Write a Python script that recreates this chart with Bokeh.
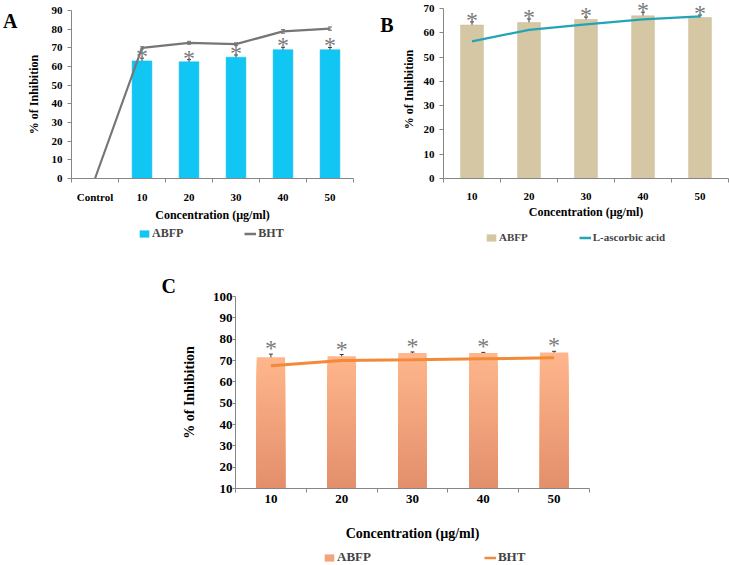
from bokeh.plotting import figure
from bokeh.models import (ColumnDataSource, Whisker, TeeHead, FixedTicker, Legend,
                          LegendItem, Range1d, Spacer, Title, LinearAxis)
from bokeh.layouts import column, row
from bokeh.core.properties import value
from bokeh.embed import file_html
from bokeh.resources import INLINE

# ---------------- data ----------------
# Panel A
a_categories = ["Control", "10", "20", "30", "40", "50"]
a_abfp = [float("nan"), 63.0, 62.5, 65.0, 69.0, 69.0]
a_abfp_err = [float("nan"), 1.5, 1.2, 1.2, 1.3, 1.2]
a_bht = [0.0, 70.0, 72.7, 72.0, 78.8, 80.3]
a_bht_err = [0.0, 0.6, 0.8, 0.7, 1.0, 0.9]
a_yticks = [0, 10, 20, 30, 40, 50, 60, 70, 80, 90]

# Panel B
b_categories = ["10", "20", "30", "40", "50"]
b_abfp = [63.2, 64.2, 65.5, 67.0, 66.3]
b_abfp_err = [1.3, 1.5, 1.0, 1.5, 1.0]
b_acid = [56.5, 61.2, 63.5, 65.5, 66.8]
b_acid_err = [0.3, 0.3, 0.4, 0.4, 0.5]
b_yticks = [0, 10, 20, 30, 40, 50, 60, 70]

# Panel C
c_categories = ["10", "20", "30", "40", "50"]
c_abfp = [71.5, 72.0, 73.5, 73.5, 73.8]
c_abfp_err = [1.5, 0.8, 0.5, 0.3, 0.5]
c_bht = [67.5, 70.0, 70.3, 70.8, 71.3]
c_bht_err = [3.5, 1.0, 3.0, 0.3, 1.5]
c_yticks = [10, 20, 30, 40, 50, 60, 70, 80, 90, 100]

SERIF = "Liberation Serif"
AXIS_GRAY = "#868686"
STAR_GRAY = "#7a7a7a"
A_BAR, B_BAR = "#12C6F4", "#D5C7A3"
A_LINE, B_LINE, C_LINE = "#767676", "#22A4B6", "#F28A3A"
C_TOP, C_BOT, C_MID = "#FFB68C", "#E38F6B", "#F4A47C"


def hexmix(c1, c2, t):
    a = [int(c1[i:i + 2], 16) for i in (1, 3, 5)]
    b = [int(c2[i:i + 2], 16) for i in (1, 3, 5)]
    return "#%02x%02x%02x" % tuple(round(a[k] + (b[k] - a[k]) * t) for k in range(3))


def make_fig(cats, yticks, W, H, mbl, mbr, mbt, mbb, fs, label_fs,
             x_std, x_lab_std, y_std, y_lab_std, y_tick_out=4, y_headroom=0.0):
    n = len(cats)
    p = figure(width=W, height=H, output_backend="svg", toolbar_location=None,
               x_range=Range1d(-0.5, n - 0.5),
               y_range=Range1d(yticks[0], yticks[-1] + y_headroom),
               min_border_left=mbl, min_border_right=mbr, min_border_top=mbt,
               min_border_bottom=mbb)
    p.outline_line_color = None
    p.xgrid.visible = False
    p.ygrid.visible = False
    xs = list(range(n))
    bounds = [i - 0.5 for i in range(n + 1)]
    p.xaxis.ticker = FixedTicker(ticks=xs, minor_ticks=bounds)
    p.xaxis.major_label_overrides = {i: c for i, c in enumerate(cats)}
    p.xaxis.major_tick_out = 0
    p.xaxis.major_tick_in = 0
    p.xaxis.minor_tick_out = 4
    p.xaxis.minor_tick_in = 0
    p.yaxis.ticker = FixedTicker(ticks=yticks)
    p.yaxis.bounds = (yticks[0], yticks[-1])
    p.yaxis.major_tick_out = y_tick_out
    p.yaxis.major_tick_in = 0
    for ax in (p.xaxis, p.yaxis):
        ax.axis_line_color = AXIS_GRAY
        ax.major_tick_line_color = AXIS_GRAY
        ax.minor_tick_line_color = AXIS_GRAY
        ax.major_label_text_font = SERIF
        ax.major_label_text_font_style = "bold"
        ax.major_label_text_font_size = f"{fs}px"
        ax.major_label_text_color = "black"
        ax.axis_label_text_font = SERIF
        ax.axis_label_text_font_style = "bold"
        ax.axis_label_text_font_size = f"{label_fs}px"
        ax.axis_label_text_color = "black"
    p.yaxis.minor_tick_line_color = None
    p.xaxis.major_label_standoff = x_std
    p.xaxis.axis_label_standoff = x_lab_std
    p.yaxis.major_label_standoff = y_std
    p.yaxis.axis_label_standoff = y_lab_std
    p.xaxis.axis_label = "Concentration (µg/ml)"
    p.yaxis.axis_label = "% of Inhibition"
    return p


def add_whiskers(p, xs, vals, errs, color="#404040", size=5):
    up = [v + e for v, e in zip(vals, errs)]
    lo = [v - e for v, e in zip(vals, errs)]
    src = ColumnDataSource(dict(x=xs, upper=up, lower=lo))
    w = Whisker(source=src, base="x", upper="upper", lower="lower",
                line_color=color, line_width=1,
                upper_head=TeeHead(size=size, line_color=color, line_width=1),
                lower_head=TeeHead(size=size, line_color=color, line_width=1))
    p.add_layout(w)


def add_stars(p, xs, vals, errs, fs, yoff):
    ys = [v + e for v, e in zip(vals, errs)]
    src = ColumnDataSource(dict(x=xs, y=ys, t=["*"] * len(xs)))
    p.text(x="x", y="y", text="t", source=src, text_font=value(SERIF),
           text_font_size=f"{fs}px", text_color=STAR_GRAY, text_align="center",
           text_baseline="middle", y_offset=yoff)


def add_side_letter(p, text, at, standoff):
    # panel letter set beside the top of the y axis, outside the value axis
    ax = LinearAxis(ticker=FixedTicker(ticks=[at]), major_label_overrides={at: text},
                    axis_line_color=None, major_tick_line_color=None,
                    minor_tick_line_color=None, major_tick_out=0, major_tick_in=0,
                    minor_tick_out=0, minor_tick_in=0, major_label_standoff=standoff,
                    major_label_text_font=SERIF, major_label_text_font_style="bold",
                    major_label_text_font_size="20px", major_label_text_color="black")
    p.add_layout(ax, "left")


def add_title_letter(p, text, offset, standoff):
    p.add_layout(Title(text=text, align="left", offset=offset, standoff=standoff,
                       text_font=SERIF, text_font_style="bold", text_font_size="20px",
                       text_color="black"), "above")


def legend_fig(W, H, mbl, bar_x, bar_vals, bar_color, line_x, line_vals, line_color,
               labels, fs, spacing, loc):
    # legend strip below a panel; it holds the same series as the panel, but its
    # ranges show none of them, so only the legend is visible
    f = figure(width=W, height=H, output_backend="svg", toolbar_location=None,
               x_axis_location=None, y_axis_location=None,
               min_border_left=mbl, min_border_right=0, min_border_top=0,
               min_border_bottom=0, x_range=Range1d(0, 1), y_range=Range1d(1000, 1001))
    f.outline_line_color = None
    f.xgrid.visible = False
    f.ygrid.visible = False
    rb = f.vbar(x=bar_x, top=bar_vals, bottom=0, width=0.4, fill_color=bar_color,
                line_color=None)
    rl = f.line(x=line_x, y=line_vals, line_color=line_color, line_width=2.5)
    lg = Legend(items=[LegendItem(label=labels[0], renderers=[rb]),
                       LegendItem(label=labels[1], renderers=[rl])],
                orientation="horizontal", location=loc,
                label_text_font=SERIF, label_text_font_style="bold",
                label_text_font_size=f"{fs}px", glyph_width=12, glyph_height=9,
                spacing=spacing, padding=0, margin=0, border_line_color=None,
                background_fill_alpha=0, label_standoff=2, label_height=12)
    f.add_layout(lg)
    return f


# ---------------- Panel A ----------------
pA = make_fig(a_categories, a_yticks, 365, 224, 68, 12, 10, 42, 11, 12,
              x_std=8, x_lab_std=2, y_std=5, y_lab_std=8)
ax_idx = list(range(len(a_categories)))
bar_idx = [i for i, v in enumerate(a_abfp) if v == v]
a_bar_vals = [a_abfp[i] for i in bar_idx]
a_bar_errs = [a_abfp_err[i] for i in bar_idx]
pA.vbar(x=bar_idx, top=a_bar_vals, bottom=0, width=0.42,
        fill_color=A_BAR, line_color="#0BB8E6", line_width=0.5)
add_whiskers(pA, bar_idx, a_bar_vals, a_bar_errs, color="#3a3a3a", size=4)
pA.line(ax_idx, a_bht, line_color=A_LINE, line_width=2.2)
add_whiskers(pA, ax_idx[1:], a_bht[1:], a_bht_err[1:], color=A_LINE, size=4)
add_stars(pA, bar_idx, a_bar_vals, a_bar_errs, 24, -2)
add_side_letter(pA, "A", 84.5, 6)
legA = legend_fig(365, 20, 68, bar_idx, a_bar_vals, A_BAR, ax_idx, a_bht, A_LINE,
                  ["ABFP", "BHT"], 12, 61, (67, 3))

# ---------------- Panel B ----------------
pB = make_fig(b_categories, b_yticks, 364, 224, 78, 1, 0, 46, 11, 12,
              x_std=10, x_lab_std=2, y_std=5, y_lab_std=5, y_headroom=3.3)
bx = list(range(len(b_categories)))
pB.vbar(x=bx, top=b_abfp, bottom=0, width=0.4,
        fill_color=B_BAR, line_color="#C9BA94", line_width=0.5)
add_whiskers(pB, bx, b_abfp, b_abfp_err, color="#3a3a3a", size=4)
pB.line(bx, b_acid, line_color=B_LINE, line_width=2.2)
add_whiskers(pB, bx, b_acid, b_acid_err, color=B_LINE, size=3)
add_stars(pB, bx, b_abfp, b_abfp_err, 24, -2)
add_side_letter(pB, "B", 63.4, 5)
legB = legend_fig(364, 20, 78, bx, b_abfp, B_BAR, bx, b_acid, B_LINE,
                  ["ABFP", "L-ascorbic acid"], 11, 51, (42, 1))

# ---------------- Panel C ----------------
pC = make_fig(c_categories, c_yticks, 451, 300, 77, 20, 52, 56, 13, 14,
              x_std=2, x_lab_std=20, y_std=0, y_lab_std=13, y_tick_out=3)
cx = list(range(len(c_categories)))
N = 40
seg_x, seg_t, seg_c = [], [], []
ymin = c_yticks[0]
for i, v in enumerate(c_abfp):
    for k in range(N, 0, -1):
        seg_x.append(cx[i])
        seg_t.append(ymin + (v - ymin) * k / N)
        seg_c.append(hexmix(C_BOT, C_TOP, (k - 0.5) / N))
segsrc = ColumnDataSource(dict(x=seg_x, top=seg_t, color=seg_c))
pC.vbar(x="x", bottom=ymin, top="top", width=0.4, fill_color="color",
        line_color=None, source=segsrc)
add_whiskers(pC, cx, c_abfp, c_abfp_err, color="#3a3a3a", size=4)
pC.line(cx, c_bht, line_color=C_LINE, line_width=3)
add_whiskers(pC, cx, c_bht, c_bht_err, color="#3a3a3a", size=4)
add_stars(pC, cx, c_abfp, c_abfp_err, 24, -6)
add_title_letter(pC, "C", -74, 0)
legC = legend_fig(451, 21, 77, cx, c_abfp, C_MID, cx, c_bht, C_LINE,
                  ["ABFP", "BHT"], 13, 113, (88, 0))

layout = column(row(column(pA, legA), column(pB, legB)),
                row(Spacer(width=158, height=10), column(pC, legC)))
open("out.html", "w").write(file_html(layout, INLINE))
